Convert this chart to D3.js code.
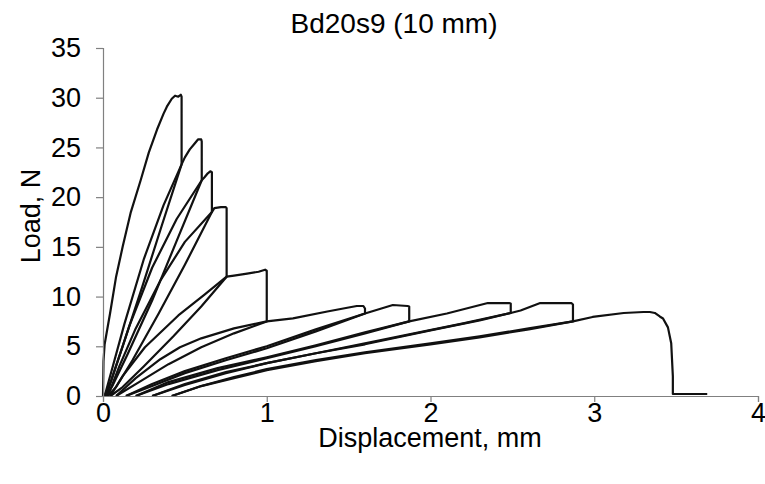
<!DOCTYPE html>
<html>
<head>
<meta charset="utf-8">
<script src="https://cdn.jsdelivr.net/npm/d3@7"></script>
<style>
  body { margin: 0; background: #fff; }
  text { font-family: "Liberation Sans", Arial, sans-serif; fill: #000; }
</style>
</head>
<body>
<div id="root"></div>
<script>
const width = 765,
  height = 484;

// tick values
const xTicks = [0, 1, 2, 3, 4];
const yTicks = [0, 5, 10, 15, 20, 25, 30, 35];

// each cycle: reload from zero, go up to peak, drop, unload back to zero
// [displacement mm, load N]
const cycle1 = [[0, 0], [0.003, 3.5], [0.01, 5.2], [0.043, 8.3], [0.08, 12], [0.12, 15], [0.17, 18.5],
  [0.23, 21.7], [0.28, 24.5], [0.33, 26.8], [0.37, 28.4], [0.39, 29.1], [0.42, 29.9], [0.44, 30.2],
  [0.46, 30.1], [0.475, 30.3], [0.48, 30.1], [0.48, 23.3],
  [0.36, 17.2], [0.24, 11.0], [0.12, 5.0], [0.05, 1.6], [0.01, 0]];
const cycle2 = [[0.01, 0], [0.06, 3.0], [0.13, 7.2], [0.25, 13.8], [0.37, 19.2], [0.48, 23.3],
  [0.5, 24.0], [0.53, 24.8], [0.56, 25.4], [0.58, 25.8], [0.6, 25.8], [0.603, 25.6], [0.603, 21.7],
  [0.45, 15.6], [0.3, 9.6], [0.15, 4.2], [0.06, 1.1], [0.02, 0]];
const cycle3 = [[0.02, 0], [0.08, 3.0], [0.16, 7.0], [0.3, 12.9], [0.45, 17.8], [0.603, 21.7],
  [0.62, 22.0], [0.64, 22.4], [0.655, 22.6], [0.665, 22.5], [0.665, 18.5],
  [0.5, 13.2], [0.34, 8.3], [0.18, 3.6], [0.08, 0.9], [0.03, 0]];
const cycle4 = [[0.03, 0], [0.1, 3.0], [0.2, 6.8], [0.35, 11.6], [0.5, 15.5], [0.665, 18.5],
  [0.68, 18.9], [0.72, 19.0], [0.75, 19.0], [0.755, 18.9], [0.755, 12.0],
  [0.6, 9.0], [0.43, 6.0], [0.25, 3.0], [0.12, 0.9], [0.045, 0]];
const cycle5 = [[0.045, 0], [0.12, 2.0], [0.256, 4.9], [0.46, 8.1], [0.62, 10.2], [0.755, 12.0],
  [0.8, 12.1], [0.88, 12.3], [0.95, 12.5], [0.99, 12.7], [1.0, 12.6], [1.0, 7.5],
  [0.8, 6.3], [0.6, 4.9], [0.4, 3.2], [0.22, 1.4], [0.08, 0]];
const cycle6 = [[0.08, 0], [0.2, 1.8], [0.35, 3.7], [0.47, 4.9], [0.6, 5.8], [0.8, 6.8], [1.0, 7.5],
  [1.16, 7.8], [1.37, 8.5], [1.5, 8.9], [1.55, 9.05], [1.59, 9.05], [1.6, 8.8], [1.6, 8.3],
  [1.3, 6.5], [1.0, 4.8], [0.75, 3.6], [0.5, 2.3], [0.3, 1.0], [0.14, 0]];
const cycle7 = [[0.14, 0], [0.3, 1.2], [0.5, 2.5], [0.75, 3.8], [1.0, 5.0], [1.3, 6.7], [1.6, 8.3],
  [1.7, 8.8], [1.77, 9.15], [1.86, 9.05], [1.87, 9.0], [1.87, 7.5],
  [1.6, 6.3], [1.3, 5.0], [1.0, 3.8], [0.7, 2.6], [0.4, 1.2], [0.2, 0]];
const cycle8 = [[0.2, 0], [0.4, 1.4], [0.7, 2.8], [1.0, 3.9], [1.3, 5.1], [1.6, 6.4], [1.87, 7.5],
  [2.1, 8.3], [2.35, 9.35], [2.48, 9.35], [2.49, 9.3], [2.49, 8.35],
  [2.2, 7.3], [1.9, 6.3], [1.6, 5.3], [1.3, 4.3], [1.0, 3.3], [0.75, 2.3], [0.5, 1.1], [0.3, 0]];
const cycle9 = [[0.3, 0], [0.5, 1.2], [0.75, 2.4], [1.0, 3.3], [1.3, 4.3], [1.6, 5.2], [2.0, 6.6],
  [2.3, 7.6], [2.49, 8.35], [2.55, 8.6], [2.67, 9.35], [2.86, 9.35], [2.87, 9.2], [2.87, 7.5],
  [2.6, 6.8], [2.3, 6.0], [2.0, 5.3], [1.6, 4.4], [1.3, 3.6], [1.0, 2.7], [0.8, 1.9], [0.6, 1.0], [0.42, 0]];
const cycle10 = [[0.42, 0], [0.6, 1.0], [0.8, 1.8], [1.0, 2.6], [1.3, 3.5], [1.6, 4.3], [2.0, 5.2],
  [2.3, 5.9], [2.6, 6.7], [2.87, 7.5], [2.99, 7.95], [3.18, 8.35], [3.3, 8.45], [3.34, 8.45],
  [3.37, 8.35], [3.4, 8.0], [3.42, 7.8], [3.45, 6.9], [3.47, 5.3], [3.48, 2.0], [3.48, 0.2], [3.69, 0.2]];

const cycles = [cycle1, cycle2, cycle3, cycle4, cycle5, cycle6, cycle7, cycle8, cycle9, cycle10];

const margins = { top: 48, right: 7, bottom: 88, left: 103 };

const svg = d3.select("#root").append("svg")
  .attr("width", width)
  .attr("height", height)
  .attr("viewBox", [0, 0, width, height]);

const xScale = d3.scaleLinear().domain([0, 4]).range([margins.left, width - margins.right]);
const yScale = d3.scaleLinear().domain([0, 35]).range([height - margins.bottom, margins.top]);

// curves
const line = d3.line()
  .x((d) => xScale(d[0]))
  .y((d) => yScale(d[1]));

svg.append("g")
  .attr("id", "curves")
  .selectAll("path")
  .data(cycles)
  .join("path")
  .attr("d", line)
  .attr("fill", "none")
  .attr("stroke", "#111")
  .attr("stroke-width", 2.2)
  .attr("stroke-linejoin", "round");

// axes
const xAxis = d3.axisBottom(xScale).tickValues(xTicks).tickFormat(d3.format("d")).tickSizeOuter(0).tickSize(6).tickPadding(1);
const yAxis = d3.axisLeft(yScale).tickValues(yTicks).tickFormat(d3.format("d")).tickSizeOuter(0).tickSize(7).tickPadding(15);

const gx = svg.append("g")
  .attr("transform", `translate(0, ${yScale(0)})`)
  .call(xAxis);
const gy = svg.append("g")
  .attr("transform", `translate(${xScale(0)}, 0)`)
  .call(yAxis);

[gx, gy].forEach((g) => {
  g.selectAll("path, line").attr("stroke", "#808080").attr("stroke-width", 1.2);
  g.selectAll("text")
    .style("font-family", '"Liberation Sans", Arial, sans-serif')
    .style("font-size", "27px")
    .attr("fill", "#000");
});

// titles
svg.append("text")
  .attr("x", 394)
  .attr("y", 33)
  .attr("text-anchor", "middle")
  .style("font-size", "28px")
  .text("Bd20s9 (10 mm)");

svg.append("text")
  .attr("x", 430)
  .attr("y", 447)
  .attr("text-anchor", "middle")
  .style("font-size", "27px")
  .text("Displacement, mm");

svg.append("text")
  .attr("transform", "translate(40, 216) rotate(-90)")
  .attr("text-anchor", "middle")
  .style("font-size", "27px")
  .text("Load, N");
</script>
</body>
</html>
